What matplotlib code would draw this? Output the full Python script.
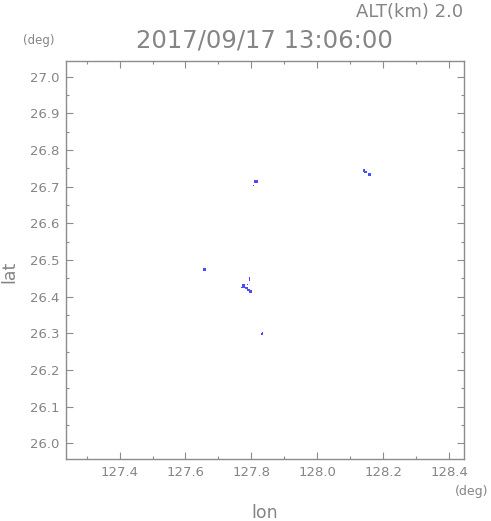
import matplotlib
matplotlib.use("Agg")
import matplotlib.pyplot as plt
from matplotlib.ticker import MultipleLocator

# ---- data ----
lon = [127.814, 127.806, 128.142, 128.146, 128.157, 128.160, 127.659,
       127.794, 127.794, 127.794, 127.777, 127.771, 127.788, 127.785,
       127.791, 127.797, 127.800, 127.833, 127.834]
lat = [26.713, 26.703, 26.744, 26.740, 26.733, 26.735, 26.473,
       26.452, 26.448, 26.445, 26.429, 26.425, 26.432, 26.423,
       26.419, 26.414, 26.413, 26.298, 26.301]
msize = [5, 0.7, 2.5, 2.5, 5, 2.5, 5,
         0.7, 0.7, 0.7, 5, 0.7, 0.7, 2.5,
         2.5, 5, 2.5, 2.5, 0.7]

xlim = (127.239, 128.445)
ylim = (25.957, 27.043)
xticks = [127.4, 127.6, 127.8, 128.0, 128.2, 128.4]
yticks = [26.0, 26.1, 26.2, 26.3, 26.4, 26.5, 26.6, 26.7, 26.8, 26.9, 27.0]
title = "2017/09/17 13:06:00"
alt_label = "ALT(km) 2.0"

grey = "#858585"
spine = "#8c8c8c"

fig = plt.figure(figsize=(4.91, 5.21), dpi=100)
ax = fig.add_axes([0.1354, 0.119, 0.8096, 0.764])

ax.scatter(lon, lat, s=msize, marker="s", color="#4a4aff", linewidths=0)

ax.set_xlim(*xlim)
ax.set_ylim(*ylim)
ax.set_xticks(xticks)
ax.set_xticklabels([f"{v:.1f}" for v in xticks])
ax.set_yticks(yticks)
ax.set_yticklabels([f"{v:.1f}" for v in yticks])
ax.xaxis.set_minor_locator(MultipleLocator(0.1))
ax.yaxis.set_minor_locator(MultipleLocator(0.05))

ax.tick_params(which="both", direction="in", top=True, right=True,
               color=spine, labelcolor=grey, labelsize=9.5, width=0.8)
ax.tick_params(which="major", length=5, pad=5)
ax.tick_params(which="minor", length=2.5)
for s in ax.spines.values():
    s.set_color(spine)
    s.set_linewidth(1.0)

fig.text(0.943, 0.977, alt_label, ha="right", va="center", fontsize=13, color=grey)
fig.text(0.538, 0.923, title, ha="center", va="center", fontsize=17.5, color=grey)
fig.text(0.078, 0.923, "(deg)", ha="center", va="center", fontsize=8.5, color=grey)
fig.text(0.960, 0.0557, "(deg)", ha="center", va="center", fontsize=9, color=grey)
fig.text(0.540, 0.016, "lon", ha="center", va="center", fontsize=12.5, color=grey)
fig.text(0.020, 0.478, "lat", ha="center", va="center", fontsize=12.5, color=grey, rotation=90)

fig.savefig("out.png", dpi=100)
